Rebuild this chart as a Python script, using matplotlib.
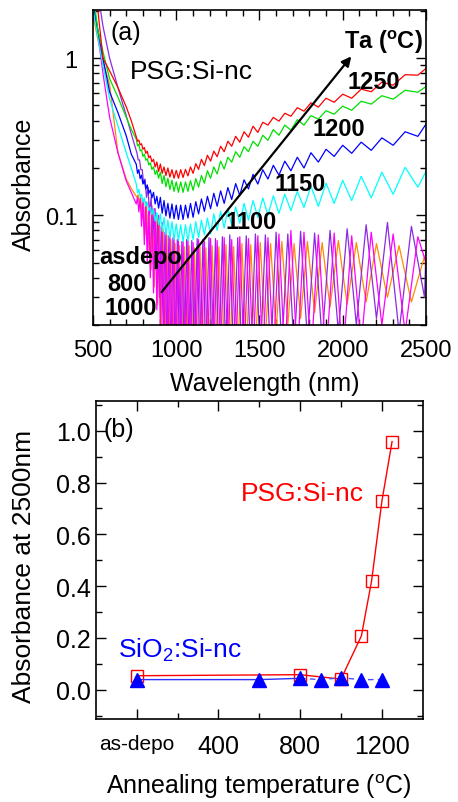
import matplotlib
matplotlib.use('Agg')
import matplotlib.pyplot as plt
from matplotlib.ticker import FixedLocator, NullFormatter, MultipleLocator

# ---------------- panel (a): absorbance spectra ----------------
# short-wavelength part (no visible fringes)
wl_start = [500, 530, 560, 600, 650, 700, 730]
# fringe extrema positions (nm), two phase sets
fringe_a = [760, 767.7, 775.5, 783.5, 791.7, 800, 808.5, 817.2, 826.1, 835.2,
            844.4, 853.9, 863.6, 873.6, 883.7, 894.1, 904.8, 915.7, 926.8, 938.3,
            950, 962, 974.4, 987, 1000, 1013.3, 1027, 1041.1, 1055.6, 1070.4,
            1085.7, 1101.4, 1117.6, 1134.3, 1151.5, 1169.2, 1187.5, 1206.3, 1225.8, 1245.9,
            1266.7, 1288.1, 1310.3, 1333.3, 1357.1, 1381.8, 1407.4, 1434, 1461.5, 1490.2,
            1520, 1551, 1583.3, 1617, 1652.2, 1688.9, 1727.3, 1767.4, 1809.5, 1853.7,
            1900, 1948.7, 2000, 2054.1, 2111.1, 2171.4, 2235.3, 2303, 2375, 2451.6]
fringe_b = [763.8, 771.6, 779.5, 787.6, 795.8, 804.2, 812.8, 821.6, 830.6, 839.8,
            849.2, 858.8, 868.6, 878.6, 888.9, 899.4, 910.2, 921.2, 932.5, 944.1,
            956, 968.2, 980.6, 993.5, 1006.6, 1020.1, 1034, 1048.3, 1062.9, 1078,
            1093.5, 1109.5, 1125.9, 1142.9, 1160.3, 1178.3, 1196.9, 1216, 1235.8, 1256.2,
            1277.3, 1299.1, 1321.7, 1345.1, 1369.4, 1394.5, 1420.6, 1447.6, 1475.7, 1505,
            1535.4, 1567, 1600, 1634.4, 1670.3, 1707.9, 1747.1, 1788.2, 1831.3, 1876.5,
            1924.1, 1974, 2026.7, 2082.2, 2140.8, 2202.9, 2268.7, 2338.5, 2412.7, 2491.8]
wl_end = [2500]

abs_1250 = [3.0, 2.0, 1.0, 0.83, 0.65, 0.49, 0.40,
            0.316, 0.296, 0.301, 0.281, 0.285, 0.263, 0.270, 0.248, 0.256, 0.232,
            0.239, 0.219, 0.227, 0.203, 0.218, 0.19, 0.212, 0.185, 0.203, 0.179,
            0.2, 0.175, 0.195, 0.172, 0.193, 0.172, 0.195, 0.174, 0.196, 0.178,
            0.203, 0.185, 0.213, 0.196, 0.227, 0.207, 0.241, 0.221, 0.256, 0.236,
            0.275, 0.254, 0.296, 0.275, 0.318, 0.292, 0.34, 0.314, 0.369, 0.337,
            0.391, 0.375, 0.42, 0.397, 0.446, 0.427, 0.484, 0.46, 0.52, 0.488,
            0.556, 0.524, 0.59, 0.556, 0.635, 0.612, 0.704, 0.673, 0.785, 0.78,
            0.86]
abs_1200 = [2.6, 1.5, 1.1, 0.74, 0.565, 0.42, 0.353,
            0.305, 0.277, 0.283, 0.257, 0.261, 0.237, 0.245, 0.224, 0.229, 0.209,
            0.216, 0.196, 0.203, 0.182, 0.193, 0.172, 0.188, 0.159, 0.179, 0.152,
            0.172, 0.146, 0.167, 0.142, 0.163, 0.14, 0.163, 0.14, 0.163, 0.142,
            0.166, 0.144, 0.171, 0.151, 0.179, 0.16, 0.192, 0.172, 0.203, 0.183,
            0.221, 0.197, 0.234, 0.218, 0.254, 0.234, 0.273, 0.254, 0.296, 0.275,
            0.323, 0.3, 0.351, 0.323, 0.375, 0.348, 0.406, 0.375, 0.431, 0.409,
            0.463, 0.44, 0.495, 0.466, 0.532, 0.51, 0.577, 0.548, 0.625, 0.607,
            0.66]
abs_1150 = [2.3, 1.5, 1.0, 0.61, 0.45, 0.32, 0.245,
            0.211, 0.185, 0.195, 0.171, 0.18, 0.158, 0.167, 0.147, 0.156, 0.138,
            0.145, 0.129, 0.14, 0.118, 0.132, 0.111, 0.13, 0.103, 0.124, 0.099,
            0.119, 0.096, 0.118, 0.095, 0.116, 0.094, 0.116, 0.094, 0.116, 0.096,
            0.119, 0.097, 0.122, 0.102, 0.127, 0.106, 0.132, 0.11, 0.138, 0.114,
            0.143, 0.119, 0.15, 0.126, 0.159, 0.134, 0.168, 0.147, 0.182, 0.158,
            0.195, 0.17, 0.208, 0.18, 0.221, 0.192, 0.234, 0.2, 0.25, 0.218,
            0.263, 0.237, 0.279, 0.248, 0.292, 0.259, 0.311, 0.279, 0.34, 0.318,
            0.38]
abs_1100 = [2.1, 1.35, 0.9, 0.55, 0.37, 0.25, 0.2,
            0.158, 0.139, 0.146, 0.13, 0.136, 0.121, 0.129, 0.114, 0.121, 0.107,
            0.113, 0.101, 0.11, 0.092, 0.104, 0.087, 0.102, 0.079, 0.097, 0.075,
            0.093, 0.072, 0.091, 0.07, 0.088, 0.069, 0.087, 0.068, 0.087, 0.069,
            0.088, 0.07, 0.091, 0.072, 0.093, 0.075, 0.096, 0.076, 0.102, 0.08,
            0.106, 0.083, 0.11, 0.086, 0.113, 0.089, 0.119, 0.093, 0.124, 0.097,
            0.129, 0.1, 0.133, 0.103, 0.136, 0.107, 0.142, 0.112, 0.153, 0.114,
            0.16, 0.119, 0.167, 0.124, 0.177, 0.129, 0.188, 0.136, 0.202, 0.151,
            0.19]
abs_1000 = [2.3, 1.4, 0.8, 0.42, 0.25, 0.165, 0.14,
            0.118, 0.13, 0.105, 0.128, 0.085, 0.125, 0.065, 0.122, 0.05, 0.12,
            0.04, 0.115, 0.032, 0.11, 0.025, 0.1, 0.018, 0.09, 0.014, 0.082,
            0.012, 0.076, 0.012, 0.072, 0.012, 0.07, 0.012, 0.068, 0.012, 0.069,
            0.012, 0.067, 0.012, 0.07, 0.012, 0.068, 0.012, 0.071, 0.012, 0.069,
            0.012, 0.072, 0.012, 0.07, 0.012, 0.073, 0.012, 0.071, 0.012, 0.074,
            0.012, 0.072, 0.012, 0.076, 0.012, 0.08, 0.012, 0.078, 0.012, 0.075,
            0.012, 0.077, 0.012, 0.074, 0.015, 0.078, 0.02, 0.076, 0.018, 0.073,
            0.05]
abs_asdepo = [4.0, 2.6, 1.6, 1.0, 0.65, 0.43, 0.33,
              0.25, 0.225, 0.225, 0.195, 0.195, 0.16, 0.17, 0.13, 0.15, 0.1,
              0.13, 0.07, 0.11, 0.045, 0.095, 0.03, 0.085, 0.02, 0.078, 0.014,
              0.074, 0.012, 0.072, 0.012, 0.07, 0.012, 0.068, 0.012, 0.07, 0.012,
              0.069, 0.012, 0.071, 0.012, 0.07, 0.012, 0.072, 0.012, 0.071, 0.012,
              0.073, 0.012, 0.075, 0.012, 0.072, 0.012, 0.074, 0.012, 0.076, 0.012,
              0.075, 0.012, 0.078, 0.014, 0.076, 0.014, 0.079, 0.016, 0.077, 0.016,
              0.08, 0.018, 0.082, 0.02, 0.087, 0.022, 0.09, 0.018, 0.085, 0.03,
              0.06]
abs_800 = [1.9, 1.3, 0.95, 0.68, 0.25, 0.17, 0.148,
           0.13, 0.135, 0.115, 0.13, 0.095, 0.125, 0.075, 0.12, 0.058, 0.115,
           0.045, 0.108, 0.035, 0.1, 0.027, 0.09, 0.02, 0.082, 0.015, 0.075,
           0.012, 0.07, 0.012, 0.066, 0.012, 0.064, 0.012, 0.063, 0.012, 0.064,
           0.012, 0.062, 0.012, 0.063, 0.012, 0.062, 0.012, 0.064, 0.012, 0.063,
           0.012, 0.065, 0.012, 0.063, 0.012, 0.066, 0.013, 0.065, 0.014, 0.067,
           0.016, 0.066, 0.018, 0.068, 0.02, 0.066, 0.022, 0.068, 0.024, 0.067,
           0.026, 0.069, 0.027, 0.067, 0.028, 0.066, 0.03, 0.064, 0.028, 0.055,
           0.045]

# ---------------- panel (b): absorbance at 2500 nm ----------------
temp_psg = [0, 800, 1000, 1100, 1150, 1200, 1250]
abs_psg = [0.054, 0.058, 0.041, 0.208, 0.421, 0.727, 0.958]
temp_sio2 = [0, 600, 800, 900, 1000, 1100, 1200]
abs_sio2 = [0.039, 0.039, 0.044, 0.039, 0.046, 0.039, 0.039]
temp_ticks = [0, 400, 800, 1200]
temp_ticklabels = ['as-depo', '400', '800', '1200']

plt.rcParams['font.family'] = ['Liberation Sans', 'DejaVu Sans']
plt.rcParams['mathtext.fontset'] = 'custom'
plt.rcParams['mathtext.rm'] = 'Liberation Sans'
plt.rcParams['mathtext.it'] = 'Liberation Sans:italic'
plt.rcParams['mathtext.bf'] = 'Liberation Sans:bold'

fig = plt.figure(figsize=(4.58, 8.03), dpi=100)
ax1 = fig.add_axes([0.203, 0.594, 0.727, 0.392])
ax2 = fig.add_axes([0.2094, 0.1034, 0.7135, 0.396])

x_a = wl_start + fringe_a + wl_end
x_b = wl_start + fringe_b + wl_end
curves = [(x_b, abs_800, '#ff8c00'),
          (x_b, abs_asdepo, '#8a2be2'),
          (x_a, abs_1000, '#ff00ff'),
          (x_a, abs_1100, '#00ffff'),
          (x_a, abs_1150, '#0000ff'),
          (x_a, abs_1200, '#00e000'),
          (x_a, abs_1250, '#ff0000')]
for wl, a, c in curves:
    assert len(wl) == len(a)
    ax1.plot(wl, a, color=c, lw=0.9)

ax1.set_yscale('log')
ax1.set_xlim(500, 2500)
ax1.set_ylim(0.02, 2.02)
ax1.yaxis.set_major_locator(FixedLocator([0.1, 1]))
ax1.yaxis.set_minor_locator(FixedLocator([0.02, 0.03, 0.04, 0.05, 0.06, 0.07, 0.08, 0.09,
                                          0.2, 0.3, 0.4, 0.5, 0.6, 0.7, 0.8, 0.9, 2]))
ax1.yaxis.set_minor_formatter(NullFormatter())
ax1.set_yticklabels(['0.1', '1'])
ax1.xaxis.set_major_locator(MultipleLocator(500))
ax1.xaxis.set_minor_locator(MultipleLocator(100))

ax1.set_xlabel('Wavelength (nm)', fontsize=18)
ax1.set_ylabel('Absorbance', fontsize=18)
ax1.xaxis.set_label_coords(0.517, -0.147)
ax1.yaxis.set_label_coords(-0.17, 0.45)

ax1.annotate('', xy=(2062, 1.06), xytext=(902, 0.0314),
             arrowprops=dict(arrowstyle='-|>', color='k', lw=1.6, mutation_scale=14))

bold = dict(fontsize=17, fontweight='bold', ha='center', va='center', transform=ax1.transAxes)
ax1.text(0.099, 0.930, '(a)', fontsize=18, ha='center', va='center', transform=ax1.transAxes)
ax1.text(0.296, 0.806, 'PSG:Si-nc', fontsize=19, ha='center', va='center', transform=ax1.transAxes)
ax1.text(0.871, 0.902, r'Ta ($\mathbf{^o}$C)', **bold)
ax1.text(0.842, 0.775, '1250', **bold)
ax1.text(0.739, 0.625, '1200', **bold)
ax1.text(0.622, 0.448, '1150', **bold)
ax1.text(0.474, 0.330, '1100', **bold)
ax1.text(0.144, 0.219, 'asdepo', **bold)
ax1.text(0.102, 0.133, '800', **bold)
ax1.text(0.114, 0.057, '1000', **bold)

# panel (b)
ax2.plot(temp_psg, abs_psg, 's-', color='red', mfc='none', ms=9, mew=1, lw=1)
ax2.plot(temp_sio2[:3], abs_sio2[:3], '-', color='#3030ff', lw=1)
ax2.plot(temp_sio2[2:], abs_sio2[2:], '--', color='#5050ff', lw=1, dashes=(4, 3))
ax2.plot(temp_sio2, abs_sio2, '^', color='#0000ff', ms=10, ls='none')

ax2.set_xlim(-200, 1400)
ax2.set_ylim(-0.113, 1.115)
ax2.xaxis.set_major_locator(FixedLocator(temp_ticks))
ax2.set_xticklabels(temp_ticklabels)
ax2.xaxis.set_minor_locator(FixedLocator([200, 600, 1000]))
ax2.yaxis.set_major_locator(MultipleLocator(0.2))
ax2.yaxis.set_minor_locator(MultipleLocator(0.1))
ax2.yaxis.set_major_formatter(matplotlib.ticker.FormatStrFormatter('%.1f'))

ax2.set_xlabel(r'Annealing temperature ($^{\rm o}$C)', fontsize=18)
ax2.set_ylabel('Absorbance at 2500nm', fontsize=19)
ax2.xaxis.set_label_coords(0.499, -0.165)
ax2.yaxis.set_label_coords(-0.183, 0.484)

ax2.text(0.07, 0.912, '(b)', fontsize=18, ha='center', va='center', transform=ax2.transAxes)
ax2.text(0.633, 0.711, 'PSG:Si-nc', fontsize=19, color='red', ha='center', va='center',
         transform=ax2.transAxes)
ax2.text(0.257, 0.22, r'SiO$_2$:Si-nc', fontsize=19, color='blue', ha='center', va='center',
         transform=ax2.transAxes)

for ax in (ax1, ax2):
    ax.tick_params(which='both', direction='in', top=True, right=True, width=1)
    ax.tick_params(which='major', length=7)
    ax.tick_params(which='minor', length=4)
    for s in ax.spines.values():
        s.set_linewidth(1.2)

ax1.tick_params(axis='x', which='major', labelsize=17, pad=10)
ax1.tick_params(axis='y', which='major', labelsize=17, pad=11)
ax2.tick_params(axis='x', which='major', labelsize=18, pad=11)
ax2.tick_params(axis='y', which='major', labelsize=18, pad=3.5)
ax2.get_xticklabels()[0].set_fontsize(15)

fig.savefig('out.png', dpi=100)
